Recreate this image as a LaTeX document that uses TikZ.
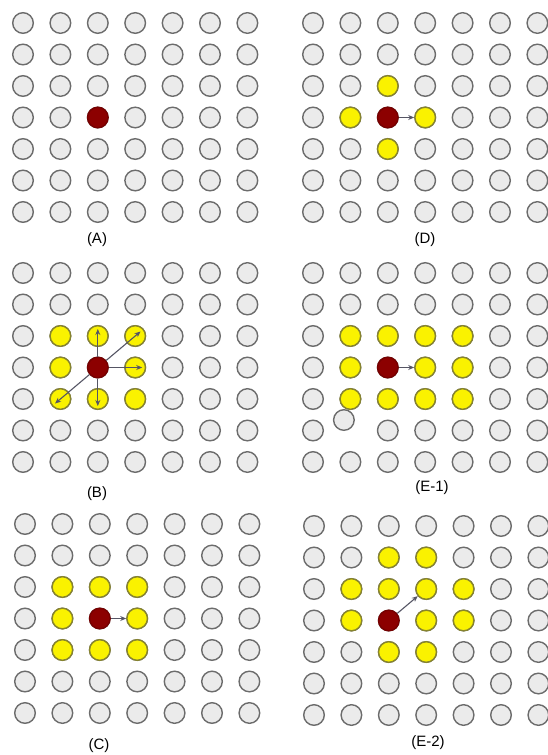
\documentclass[tikz,border=0pt]{standalone}
\usepackage{fontspec}
\setmainfont{Liberation Sans}
\usetikzlibrary{arrows.meta}

\definecolor{dotgray}{RGB}{235,235,235}
\definecolor{dotline}{RGB}{108,108,108}
\definecolor{hityel}{RGB}{250,242,0}
\definecolor{hitline}{RGB}{135,132,45}
\definecolor{curred}{RGB}{140,0,0}
\definecolor{arrgray}{RGB}{85,85,100}

% 7x7 grid of gray dots, named #1-row-col, first dot at (#2,#3)
\newcommand{\dotgrid}[3]{%
  \foreach \r in {1,...,7}
    \foreach \c in {1,...,7}
      \node[dot,#1-\r-\c/.try] (#1-\r-\c) at ({#2+(\c-1)*37.4},{#3+(\r-1)*31.5}) {};}

\begin{document}
\begin{tikzpicture}[x=1pt,y=-1pt,>={Stealth[length=6pt,width=5pt]},
  dot/.style={circle,draw=dotline,fill=dotgray,line width=1.4pt,minimum size=20.6pt,inner sep=0pt},
  hit/.style={dot,draw=hitline,fill=hityel},
  cur/.style={dot,draw=curred!85!black,fill=curred},
  arr/.style={->,draw=arrgray,line width=1.1pt},
  lbl/.style={font=\fontsize{15}{18}\selectfont},
  E1-6-2/.style={xshift=-6.5pt,yshift=10.5pt}]
\useasboundingbox (0,0) rectangle (548,755);
% (A)
\dotgrid{A}{23}{23}
\node[cur] (Ar) at (A-4-3) {};
\node[lbl] (labA) at (97,240) {(A)};
% (B)
\dotgrid{B}{23}{273}
\foreach \p in {3-2,3-3,3-4,4-2,4-4,5-2,5-3,5-4}
  \node[hit] (By-\p) at (B-\p) {};
\node[cur] (Br) at (B-4-3) {};
\foreach \p in {3-3,3-4,4-4,5-3,5-2}
  \draw[arr,shorten >=-7pt] (Br) -- (By-\p.center);
\node[lbl] (labB) at (97,494) {(B)};
% (C)
\dotgrid{C}{25}{524}
\foreach \p in {3-2,3-3,3-4,4-2,4-4,5-2,5-3,5-4}
  \node[hit] (Cy-\p) at (C-\p) {};
\node[cur] (Cr) at (C-4-3) {};
\draw[arr] (Cr) -- (Cy-4-4);
\node[lbl] (labC) at (99,746) {(C)};
% (D)
\dotgrid{D}{313}{23}
\foreach \p in {3-3,4-2,4-4,5-3}
  \node[hit] (Dy-\p) at (D-\p) {};
\node[cur] (Dr) at (D-4-3) {};
\draw[arr] (Dr) -- (Dy-4-4);
\node[lbl] (labD) at (425,240) {(D)};
% (E-1)
\dotgrid{E1}{313}{273}
\foreach \p in {3-2,3-3,3-4,3-5,4-2,4-4,4-5,5-2,5-3,5-4,5-5}
  \node[hit] (E1y-\p) at (E1-\p) {};
\node[cur] (E1r) at (E1-4-3) {};
\draw[arr] (E1r) -- (E1y-4-4);
\node[lbl] (labE1) at (432,488) {(E-1)};
% (E-2)
\dotgrid{E2}{314}{526}
\foreach \p in {2-3,2-4,3-2,3-3,3-4,3-5,4-2,4-4,4-5,5-3,5-4}
  \node[hit] (E2y-\p) at (E2-\p) {};
\node[cur] (E2r) at (E2-4-3) {};
\draw[arr] (E2r) -- (E2y-3-4);
\node[lbl] (labE2) at (428,743) {(E-2)};
\end{tikzpicture}
\end{document}
